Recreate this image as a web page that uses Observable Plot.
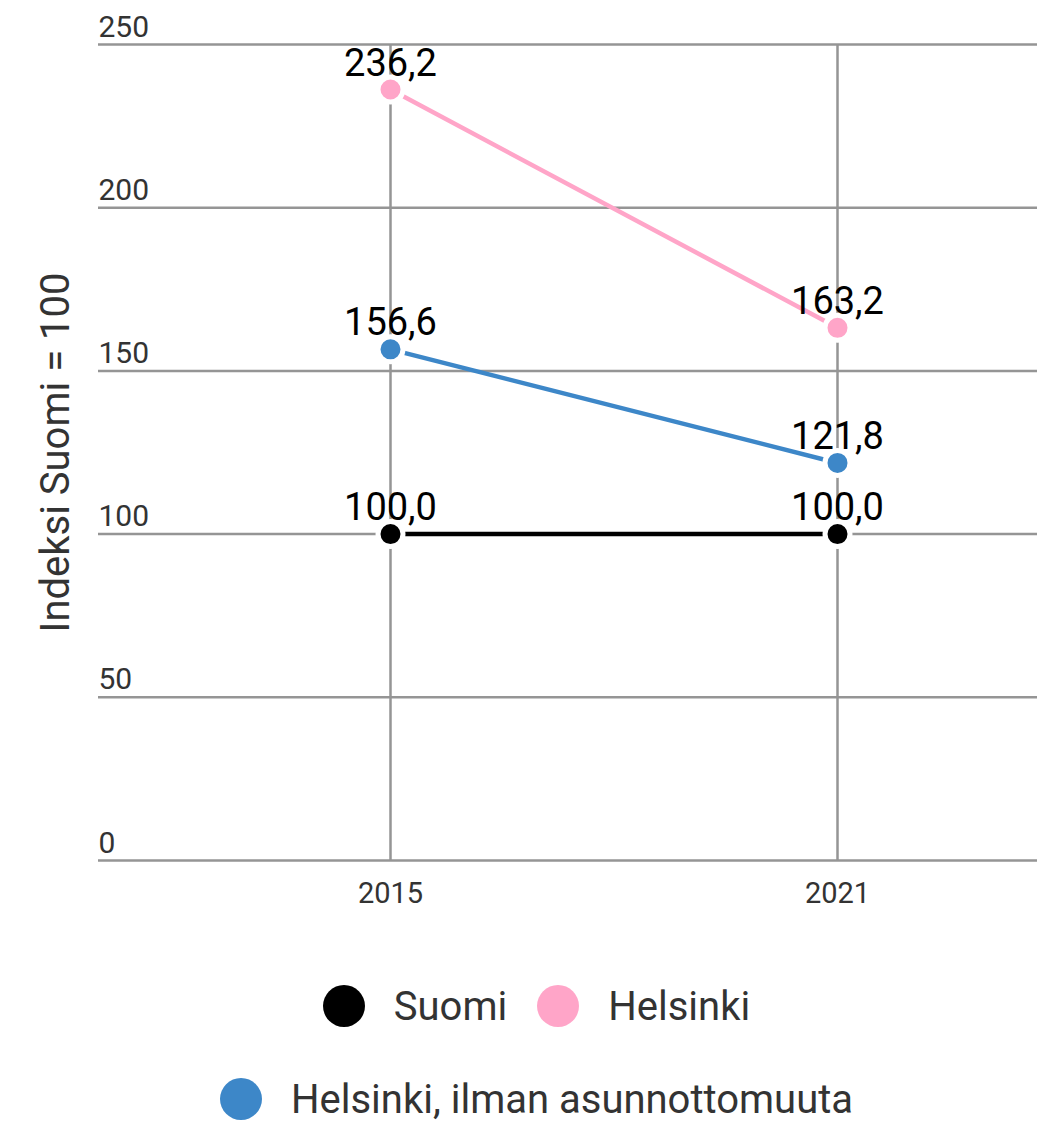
<!DOCTYPE html>
<html>
<head>
<meta charset="utf-8">
<script src="https://cdn.jsdelivr.net/npm/d3@7"></script>
<script src="https://cdn.jsdelivr.net/npm/@observablehq/plot@0.6"></script>
<style>
  html, body { margin: 0; padding: 0; background: #fff; }
  body { width: 1037px; font-family: Roboto, "Noto Sans", sans-serif; }
  #chart svg { display: block; }
  .legend { width: 1037px; margin-top: 42px; transform: translateX(18px); color: #333; font-size: 40px; }
  .row { display: flex; justify-content: center; align-items: center; height: 48px; }
  .row + .row { margin-top: 45px; }
  .item { display: flex; align-items: center; }
  .item + .item { margin-left: 30px; }
  .sw { width: 42px; height: 42px; border-radius: 50%; margin-right: 29px; }
</style>
</head>
<body>
<div id="chart"></div>
<div class="legend" id="legend"></div>
<script>
const years = [2015, 2021];
const seriesNames = ["Suomi", "Helsinki", "Helsinki, ilman asunnottomuuta"];
const suomiValues = [100.0, 100.0];
const helsinkiValues = [236.2, 163.2];
const helsinkiIlmanValues = [156.6, 121.8];
const seriesColors = ["#000000", "#ffa5c8", "#3d87c8"];
const yTicks = [0, 50, 100, 150, 200, 250];
const yTitle = "Indeksi Suomi = 100";
const legendRows = [["Suomi", "Helsinki"], ["Helsinki, ilman asunnottomuuta"]];

const valuesBySeries = [suomiValues, helsinkiValues, helsinkiIlmanValues];
const data = seriesNames.flatMap((s, j) => years.map((yr, i) => ({year: yr, series: s, value: valuesBySeries[j][i]})));
const fmt = v => d3.format(".1f")(v).replace(".", ",");

const chart = Plot.plot({
  width: 1037,
  height: 940,
  marginTop: 44,
  marginBottom: 80,
  marginLeft: 98,
  marginRight: 0,
  x: {type: "point", domain: years, range: [390, 837], padding: 0, axis: null},
  y: {domain: [0, 250], axis: null},
  color: {domain: seriesNames, range: seriesColors},
  style: {fontFamily: "Roboto, sans-serif", background: "white"},
  marks: [
    Plot.ruleY(yTicks, {y: d => d, stroke: "#959595", strokeWidth: 2.5}),
    Plot.ruleX(years, {x: d => d, stroke: "#959595", strokeWidth: 2.5}),
    Plot.text(yTicks, {y: d => d, text: d => String(d), frameAnchor: "left", textAnchor: "start", lineAnchor: "bottom", dy: -8, fontSize: 30, fill: "#333"}),
    Plot.text(years, {x: d => d, text: d => String(d), frameAnchor: "bottom", lineAnchor: "middle", dy: 33, fontSize: 29, fill: "#333"}),
    Plot.text([yTitle], {text: d => d, frameAnchor: "left", textAnchor: "middle", rotate: -90, lineAnchor: "bottom", dx: -30, fontSize: 40, fill: "#333"}),
    Plot.line(data, {x: "year", y: "value", z: "series", stroke: "series", strokeWidth: 4.5}),
    Plot.dot(data, {x: "year", y: "value", fill: "series", r: 12.5, stroke: "white", strokeWidth: 5}),
    Plot.text(data, {x: "year", y: "value", text: d => fmt(d.value), lineAnchor: "bottom", dy: -14, fontSize: 38, fill: "black"})
  ]
});
document.getElementById("chart").appendChild(chart);

const legend = document.getElementById("legend");
for (const row of legendRows) {
  const r = document.createElement("div");
  r.className = "row";
  for (const name of row) {
    const it = document.createElement("div");
    it.className = "item";
    const sw = document.createElement("span");
    sw.className = "sw";
    sw.style.background = seriesColors[seriesNames.indexOf(name)];
    const t = document.createElement("span");
    t.textContent = name;
    it.appendChild(sw);
    it.appendChild(t);
    r.appendChild(it);
  }
  legend.appendChild(r);
}
</script>
</body>
</html>
